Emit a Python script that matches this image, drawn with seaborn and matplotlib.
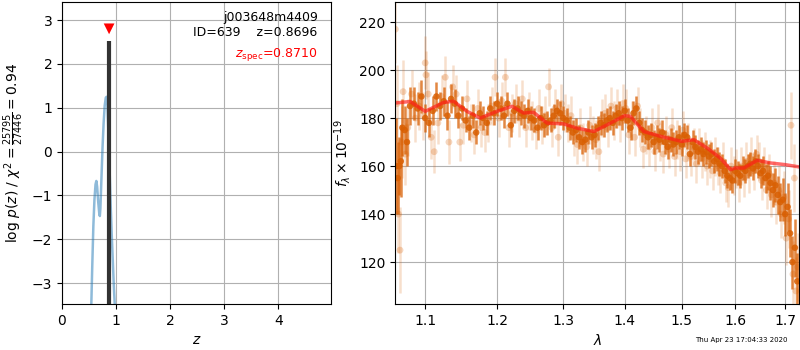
import numpy as np
import pandas as pd
import matplotlib
matplotlib.use("Agg")
import matplotlib.pyplot as plt
import seaborn as sns
from matplotlib.ticker import FixedLocator, FixedFormatter, NullLocator

# ---------------- data ----------------
# redshift probability curve
pz_z = [0.54, 0.56, 0.58, 0.60, 0.62, 0.635, 0.65, 0.67, 0.69, 0.70, 0.71, 0.73,
        0.75, 0.77, 0.79, 0.81, 0.825, 0.84, 0.86, 0.88, 0.90, 0.92, 0.94, 0.96, 0.98]
pz_logp = [-3.6, -2.6, -1.7, -1.1, -0.75, -0.67, -0.8, -1.15, -1.42, -1.47, -1.3, -0.6,
           0.1, 0.65, 1.05, 1.23, 1.25, 1.05, 0.4, -0.4, -1.2, -1.9, -2.5, -3.1, -3.6]
z_best = 0.8696
z_best_top = 2.52
z_spec = 0.8710
z_spec_mark = 2.8

# spectrum: dark (first beam)
dark_wave = [1.062, 1.064, 1.066, 1.068, 1.070, 1.073, 1.076, 1.080, 1.085, 1.090, 1.095,
             1.100, 1.105, 1.110, 1.115, 1.120, 1.125, 1.130, 1.135, 1.140, 1.145, 1.150,
             1.155, 1.160, 1.165, 1.170, 1.175, 1.180, 1.185, 1.190, 1.195, 1.200, 1.205,
             1.210, 1.215, 1.220, 1.225, 1.230, 1.235, 1.240, 1.245, 1.250, 1.255, 1.260,
             1.265, 1.270, 1.275, 1.280, 1.285, 1.290, 1.295, 1.300, 1.305, 1.310, 1.315,
             1.320, 1.325, 1.330, 1.335, 1.340, 1.345, 1.350, 1.355, 1.360, 1.365, 1.370,
             1.375, 1.380, 1.385, 1.390, 1.395, 1.400, 1.405, 1.410, 1.415, 1.420, 1.425,
             1.430, 1.435, 1.440, 1.445, 1.450, 1.455, 1.460, 1.465, 1.470, 1.475, 1.480,
             1.485, 1.490, 1.495, 1.500, 1.505, 1.510, 1.515, 1.520, 1.525, 1.530, 1.535,
             1.540, 1.545, 1.550, 1.555, 1.560, 1.565, 1.570, 1.575, 1.580, 1.585, 1.590,
             1.595, 1.600, 1.605, 1.610, 1.615, 1.620, 1.625, 1.630, 1.635, 1.640, 1.645,
             1.650, 1.655, 1.660, 1.665, 1.670, 1.675, 1.680, 1.685, 1.690, 1.695, 1.700,
             1.705, 1.710, 1.715, 1.720, 1.725]
dark_flux = [160, 155, 160, 162, 176, 175, 170, 185, 186, 184, 189,
             180, 178, 183, 189, 185, 187, 181, 188, 186, 181, 184,
             179, 176, 181, 174, 182, 180, 178, 184, 182, 186, 184,
             181, 186, 177, 183, 184, 182, 181, 183, 180, 179, 176,
             180, 177, 178, 179, 181, 183, 182, 180, 179, 176, 174,
             175, 172, 170, 171, 174, 172, 173, 176, 178, 177, 179,
             180, 178, 181, 182, 180, 183, 179, 176, 182, 184, 178,
             175, 174, 172, 173, 170, 172, 171, 174, 170, 168, 171,
             169, 170, 172, 169, 173, 172, 165, 170, 168, 166, 167,
             165, 166, 164, 165, 162, 163, 161, 160, 158, 156, 155,
             154, 158, 157, 156, 159, 158, 160, 161, 159, 162, 160,
             157, 158, 155, 156, 153, 150, 152, 148, 145, 146, 140,
             143, 132, 120, 126, 112]
dark_err = [20, 15, 12, 15, 12, 10, 10, 8, 7, 7, 7,
            6, 6, 6, 6, 6, 6, 6, 6, 6, 5, 5,
            5, 5, 5, 5, 5, 5, 5, 5, 5, 5, 5,
            5, 5, 5, 5, 5, 5, 5, 5, 5, 5, 5,
            5, 5, 5, 5, 5, 5, 5, 5, 5, 5, 5,
            5, 5, 5, 5, 5, 5, 5, 5, 5, 5, 5,
            5, 5, 5, 5, 5, 5, 5, 5, 5, 5, 5,
            5, 5, 5, 5, 5, 5, 5, 5, 5, 5, 5,
            5, 5, 5, 5, 5, 5, 5, 5, 5, 5, 5,
            5, 5, 5, 5, 5, 5, 5, 5, 5, 5, 5,
            5, 5, 5, 5, 5, 5, 5, 5, 5, 5, 5,
            6, 6, 6, 6, 7, 7, 7, 8, 8, 9, 9,
            10, 10, 11, 12, 12]

# spectrum: light (second beam)
light_wave = [1.061, 1.063, 1.065, 1.067, 1.069, 1.071, 1.074, 1.077, 1.082, 1.087, 1.092,
              1.097, 1.100, 1.101, 1.104, 1.108, 1.112, 1.117, 1.122, 1.127, 1.132, 1.137,
              1.142, 1.147, 1.152, 1.157, 1.162, 1.167, 1.172, 1.177, 1.182, 1.187, 1.192,
              1.197, 1.202, 1.207, 1.212, 1.217, 1.222, 1.227, 1.232, 1.237, 1.242, 1.247,
              1.252, 1.257, 1.262, 1.267, 1.272, 1.277, 1.282, 1.287, 1.292, 1.297, 1.302,
              1.307, 1.312, 1.317, 1.322, 1.327, 1.332, 1.337, 1.342, 1.347, 1.352, 1.357,
              1.362, 1.367, 1.372, 1.377, 1.382, 1.387, 1.392, 1.397, 1.402, 1.407, 1.412,
              1.417, 1.422, 1.427, 1.432, 1.437, 1.442, 1.447, 1.452, 1.457, 1.462, 1.467,
              1.472, 1.477, 1.482, 1.487, 1.492, 1.497, 1.502, 1.507, 1.512, 1.517, 1.522,
              1.527, 1.532, 1.537, 1.542, 1.547, 1.552, 1.557, 1.562, 1.567, 1.572, 1.577,
              1.582, 1.587, 1.592, 1.597, 1.602, 1.607, 1.612, 1.617, 1.622, 1.627, 1.632,
              1.637, 1.642, 1.647, 1.652, 1.657, 1.662, 1.667, 1.672, 1.677, 1.682, 1.687,
              1.692, 1.697, 1.702, 1.707, 1.712, 1.716, 1.719, 1.722, 1.726]
light_flux = [217, 186, 140, 125, 170, 191, 165, 176, 190, 180, 185,
              181, 203, 198, 190, 172, 166, 178, 189, 197, 170, 193,
              190, 170, 177, 188, 178, 173, 184, 176, 174, 178, 185,
              197, 180, 187, 197, 176, 182, 186, 180, 188, 176, 183,
              179, 175, 184, 177, 181, 193, 176, 184, 172, 186, 182,
              178, 181, 172, 169, 176, 170, 168, 177, 173, 171, 166,
              180, 182, 176, 185, 179, 184, 178, 186, 184, 173, 179,
              172, 185, 176, 167, 173, 168, 176, 166, 178, 170, 165,
              173, 167, 176, 164, 171, 166, 175, 163, 170, 164, 168,
              161, 168, 163, 166, 160, 163, 158, 164, 160, 157, 162,
              153, 151, 160, 156, 159, 153, 160, 155, 162, 157, 164,
              158, 165, 162, 154, 160, 150, 157, 148, 153, 145, 150,
              140, 147, 130, 138, 177, 115, 155, 108, 118]
light_err = [14, 16, 16, 18, 15, 13, 13, 12, 10, 10, 10,
             10, 11, 10, 9, 9, 9, 9, 9, 9, 9, 9,
             8, 8, 8, 8, 8, 8, 8, 8, 8, 8, 8,
             8, 8, 8, 8, 8, 8, 8, 8, 8, 8, 8,
             8, 8, 8, 8, 8, 8, 8, 8, 8, 8, 8,
             8, 8, 8, 8, 8, 8, 8, 8, 8, 8, 8,
             8, 8, 8, 8, 8, 8, 8, 8, 8, 8, 8,
             8, 8, 8, 8, 8, 8, 8, 8, 8, 8, 8,
             8, 8, 8, 8, 8, 8, 8, 8, 8, 8, 8,
             8, 8, 8, 8, 8, 8, 8, 8, 8, 8, 8,
             8, 8, 8, 8, 8, 8, 8, 8, 8, 8, 8,
             8, 8, 8, 8, 8, 8, 8, 9, 9, 9, 10,
             10, 11, 11, 12, 14, 14, 14, 14, 14]

# best-fit model
model_wave = [1.0616, 1.0802, 1.100, 1.1247, 1.1384, 1.157, 1.1758, 1.1997, 1.2218, 1.239,
              1.254, 1.2746, 1.300, 1.3218, 1.349, 1.3707, 1.400, 1.4098, 1.4328, 1.462,
              1.500, 1.5222, 1.547, 1.572, 1.5913, 1.600, 1.617, 1.6435, 1.670, 1.700, 1.7305]
model_flux = [186.3, 186.9, 182.8, 186.5, 187.0, 182.8, 180.0, 182.8, 184.9, 182.1,
              182.4, 177.9, 177.6, 175.8, 174.4, 177.2, 181.0, 180.7, 174.4, 172.4,
              170.3, 171.0, 167.5, 163.3, 158.5, 159.2, 159.2, 162.4, 161.3, 160.6, 159.6]

wave_ticks = [1.1, 1.2, 1.3, 1.4, 1.5, 1.6, 1.7]
wave_tick_labels = ["1.1", "1.2", "1.3", "1.4", "1.5", "1.6", "1.7"]
flux_ticks = [120, 140, 160, 180, 200, 220]

obj_name = "j003648m4409"
obj_id = 639
timestamp = "Thu Apr 23 17:04:33 2020"

# ---------------- figure ----------------
plt.rcParams['font.family'] = ['DejaVu Sans']
fig = plt.figure(figsize=(8, 3.5), dpi=100)
ax1 = fig.add_axes([0.0775, 0.131, 0.3365, 0.863])
ax2 = fig.add_axes([0.494, 0.131, 0.505, 0.863])

orange = '#d95f02'

# --- left panel: p(z)
pz_df = pd.DataFrame({'z': pz_z, 'logp': pz_logp})
sns.lineplot(data=pz_df, x='z', y='logp', ax=ax1, color='#1f77b4', alpha=0.5,
             linewidth=1.8, sort=False)
ax1.vlines([z_best], -10, z_best_top, color='0.2', linewidth=3)
sns.scatterplot(x=[z_spec], y=[z_spec_mark], ax=ax1, marker='v', color='red',
                s=60, edgecolor='none')
ax1.set_xlim(0, 4.98)
ax1.set_ylim(-3.48, 3.41)
ax1.set_xticks([0, 1, 2, 3, 4])
ax1.set_yticks([-3, -2, -1, 0, 1, 2, 3])
ax1.grid(True, color='#b0b0b0')
ax1.set_axisbelow(True)
ax1.set_xlabel('$z$')
ax1.set_ylabel(r'log $p(z)$ / $\chi^2=\frac{25795}{27446}=0.94$')
ax1.text(0.95, 0.97, f"{obj_name}\nID={obj_id}    z={z_best:.4f}", transform=ax1.transAxes,
         ha='right', va='top', fontsize=9)
ax1.text(0.95, 0.825, r'$z_\mathrm{spec}$=' + f'{z_spec:.4f}', transform=ax1.transAxes,
         ha='right', va='center', fontsize=9, color='red')

# --- right panel: spectrum
ax2.errorbar(light_wave, light_flux, yerr=light_err, fmt='none', ecolor=orange,
             alpha=0.2, elinewidth=1.8)
sns.scatterplot(x=light_wave, y=light_flux, ax=ax2, color=orange, alpha=0.25, s=24,
                edgecolor='none')
ax2.errorbar(dark_wave, dark_flux, yerr=dark_err, fmt='none', ecolor=orange,
             alpha=0.75, elinewidth=1.8)
sns.scatterplot(x=dark_wave, y=dark_flux, ax=ax2, color=orange, alpha=0.85, s=22,
                edgecolor='none')
model_df = pd.DataFrame({'wave': model_wave, 'flux': model_flux})
sns.lineplot(data=model_df, x='wave', y='flux', ax=ax2, color='#ff1a1a', alpha=0.65,
             linewidth=2.5)

ax2.set_xscale('log')
ax2.set_xlim(1.0608, 1.729)
ax2.set_ylim(102.5, 228.3)
ax2.xaxis.set_major_locator(FixedLocator(wave_ticks))
ax2.xaxis.set_major_formatter(FixedFormatter(wave_tick_labels))
ax2.xaxis.set_minor_locator(NullLocator())
ax2.set_yticks(flux_ticks)
ax2.grid(True, color='#b0b0b0')
ax2.set_axisbelow(True)
ax2.set_xlabel(r'$\lambda$')
ax2.set_ylabel(r'$f_\lambda\times10^{-19}$')

fig.text(0.984, 0.028, timestamp, ha='right', va='center', fontsize=5)

fig.savefig('out.png', dpi=100)
